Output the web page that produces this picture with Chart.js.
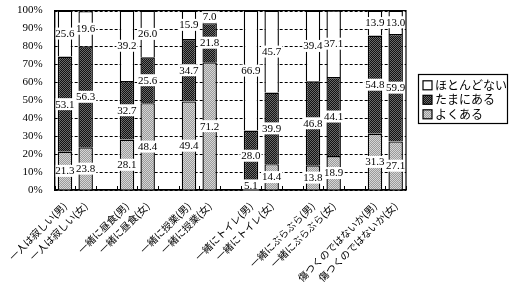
<!DOCTYPE html>
<html>
<head>
<meta charset="utf-8">
<script src="https://cdn.jsdelivr.net/npm/chart.js@4.4.1/dist/chart.umd.min.js"></script>
<style>
  html, body { margin: 0; padding: 0; background: #fff; }
  #wrap { width: 512px; height: 285px; }
</style>
</head>
<body>
<div id="wrap"><canvas id="chart" width="512" height="285"></canvas></div>
<script>
// categories (empty strings are the gaps between pairs)
const categories = [
  '一人は寂しい(男)', '一人は寂しい(女)', '',
  '一緒に昼食(男)', '一緒に昼食(女)', '',
  '一緒に授業(男)', '一緒に授業(女)', '',
  '一緒にトイレ(男)', '一緒にトイレ(女)', '',
  '一緒にぶらぶら(男)', '一緒にぶらぶら(女)', '',
  '傷つくのではないか(男)', '傷つくのではないか(女)'
];

const often     = [21.3, 23.8, null, 28.1, 48.4, null, 49.4, 71.2, null, 5.1, 14.4, null, 13.8, 18.9, null, 31.3, 27.1];
const sometimes = [53.1, 56.3, null, 32.7, 25.6, null, 34.7, 21.8, null, 28.0, 39.9, null, 46.8, 44.1, null, 54.8, 59.9];
const rarely    = [25.6, 19.6, null, 39.2, 26.0, null, 15.9, 7.0, null, 66.9, 45.7, null, 39.4, 37.1, null, 13.9, 13.0];

const yTicks = [0, 10, 20, 30, 40, 50, 60, 70, 80, 90, 100];

const serif = '"Liberation Serif", "Noto Sans CJK JP", serif';
const cjk = '"Noto Sans CJK JP", sans-serif';

// stipple patterns like the printed original
function makePattern(c1, c2) {
  const p = document.createElement('canvas');
  p.width = 2; p.height = 2;
  const g = p.getContext('2d');
  g.fillStyle = c1;
  g.fillRect(0, 0, 2, 2);
  g.fillStyle = c2;
  g.fillRect(0, 0, 1, 1);
  g.fillRect(1, 1, 1, 1);
  return g.createPattern(p, 'repeat');
}
const ctx = document.getElementById('chart').getContext('2d');
const lightPat = makePattern('#9a9a9a', '#d6d6d6');
const darkPat = makePattern('#111111', '#6a6a6a');

// dashed horizontal grid behind the bars
const dashedGrid = {
  id: 'dashedGrid',
  beforeDatasetsDraw(chart) {
    const c = chart.ctx;
    const a = chart.chartArea;
    const ys = chart.scales.y;
    c.save();
    c.strokeStyle = '#000';
    c.lineWidth = 1;
    c.setLineDash([3, 2]);
    yTicks.forEach(v => {
      const py = Math.round(ys.getPixelForValue(v)) + 0.5;
      c.beginPath();
      c.moveTo(a.left, py);
      c.lineTo(a.right, py);
      c.stroke();
    });
    c.restore();
  }
};

// value labels in white boxes at segment centres
const valueLabels = {
  id: 'valueLabels',
  afterDatasetsDraw(chart) {
    const c = chart.ctx;
    c.save();
    c.font = '11px ' + serif;
    c.textAlign = 'center';
    c.textBaseline = 'middle';
    chart.data.datasets.forEach((ds, i) => {
      const meta = chart.getDatasetMeta(i);
      meta.data.forEach((el, j) => {
        const v = ds.data[j];
        if (v == null) return;
        const { x, y } = el.getCenterPoint();
        const txt = v.toFixed(1);
        const w = c.measureText(txt).width;
        c.fillStyle = '#fff';
        c.fillRect(x - w / 2 - 1, y - 6, w + 2, 12);
        c.fillStyle = '#000';
        c.fillText(txt, x, y + 0.5);
      });
    });
    c.restore();
  }
};

// plot frame, inner x ticks and a boxed legend to the right
const frame = {
  id: 'frame',
  afterDraw(chart) {
    const c = chart.ctx;
    const a = chart.chartArea;
    const xs = chart.scales.x;
    c.save();
    c.strokeStyle = '#000';
    c.lineWidth = 1.2;
    c.strokeRect(a.left, a.top, a.right - a.left, a.bottom - a.top);
    c.lineWidth = 1;
    for (let i = 0; i <= categories.length; i++) {
      const px = Math.round(xs.getPixelForValue(i - 0.5)) + 0.5;
      c.beginPath();
      c.moveTo(px, a.bottom);
      c.lineTo(px, a.bottom - 4);
      c.stroke();
    }

    // legend
    const items = chart.data.datasets.slice().reverse();
    const bx = a.right + 12, by = (a.top + a.bottom) / 2 - 26;
    c.lineWidth = 1.2;
    c.strokeRect(Math.round(bx) + 0.5, Math.round(by) + 0.5, 89, 49);
    c.font = '12px ' + cjk;
    c.textBaseline = 'middle';
    c.textAlign = 'left';
    items.forEach((ds, k) => {
      const cy = by + 11 + k * 14.5;
      c.fillStyle = ds.backgroundColor;
      c.fillRect(bx + 5, cy - 4.5, 9, 9);
      c.lineWidth = 1.2;
      c.strokeRect(bx + 5, cy - 4.5, 9, 9);
      c.fillStyle = '#000';
      c.fillText(ds.label, bx + 17, cy);
    });
    c.restore();
  }
};

new Chart(ctx, {
  type: 'bar',
  data: {
    labels: categories,
    datasets: [
      { label: 'よくある', data: often, backgroundColor: lightPat },
      { label: 'たまにある', data: sometimes, backgroundColor: darkPat },
      { label: 'ほとんどない', data: rarely, backgroundColor: '#ffffff' }
    ].map(d => ({
      ...d,
      borderColor: '#000',
      borderWidth: 1.4,
      categoryPercentage: 1,
      barPercentage: 0.7
    }))
  },
  options: {
    responsive: false,
    animation: false,
    layout: { padding: { left: 13, right: 106, top: 9, bottom: 0 } },
    scales: {
      x: {
        stacked: true,
        grid: { display: false },
        border: { color: '#000', width: 1.2 },
        ticks: {
          autoSkip: false,
          minRotation: 45,
          maxRotation: 45,
          padding: 2,
          color: '#000',
          font: { family: cjk, size: 10 }
        },
        afterFit(scale) {
          scale.paddingLeft = 0;
          scale.paddingRight = 0;
          scale.height = 95;
        }
      },
      y: {
        stacked: true,
        min: 0,
        max: 100,
        afterBuildTicks(scale) { scale.ticks = yTicks.map(v => ({ value: v })); },
        grid: { display: false },
        border: { color: '#000', width: 1.2 },
        ticks: {
          padding: 4,
          color: '#000',
          font: { family: serif, size: 11 },
          callback: v => v + '%'
        }
      }
    },
    plugins: {
      legend: { display: false },
      tooltip: { enabled: false }
    }
  },
  plugins: [dashedGrid, valueLabels, frame]
});
</script>
</body>
</html>
